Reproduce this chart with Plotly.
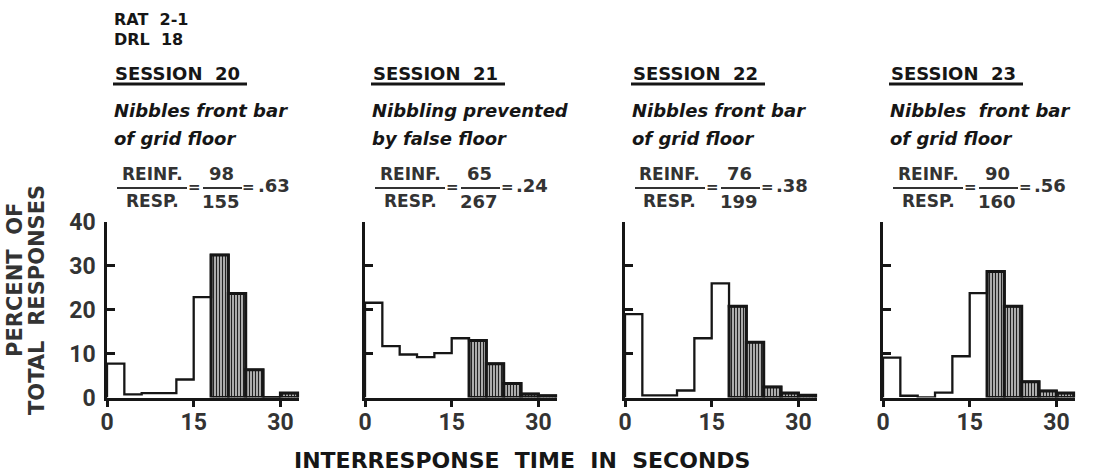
import plotly.graph_objects as go

# ---------------- data ----------------
bin_edges = [0, 3, 6, 9, 12, 15, 18, 21, 24, 27, 30, 33]   # seconds
criterion = 18                                              # DRL 18 s: reinforced IRTs
session_names = ["SESSION  20", "SESSION  21", "SESSION  22", "SESSION  23"]
session_notes = [["Nibbles front bar", "of grid floor"],
                 ["Nibbling prevented", "by false floor"],
                 ["Nibbles front bar", "of grid floor"],
                 ["Nibbles  front bar", "of grid floor"]]
reinf = ["98", "65", "76", "90"]
resp = ["155", "267", "199", "160"]
ratio = [".63", ".24", ".38", ".56"]
session20 = [7.7, 0.7, 1.0, 1.0, 4.1, 22.9, 32.5, 23.7, 6.3, 0.0, 1.0]
session21 = [21.6, 11.7, 9.8, 9.2, 10.1, 13.5, 13.0, 7.7, 3.2, 0.8, 0.4]
session22 = [19.0, 0.5, 0.5, 1.6, 13.5, 26.0, 20.8, 12.6, 2.4, 1.0, 0.5]
session23 = [9.1, 0.4, 0.0, 1.1, 9.4, 23.8, 28.7, 20.8, 3.6, 1.5, 1.0]
sessions = [session20, session21, session22, session23]
x_ticks = [0, 15, 30]
y_ticks = [0, 10, 20, 30, 40]

# ---------------- layout helpers ----------------
W, H = 1096, 474
def px(x):
    return x / W
def py(y):
    return 1 - y / H

INK = "#161616"
GRAY = "#333333"
panel_left = [107, 365, 625, 883]   # pixel x of each y-axis
sec_px = 5.78                        # pixels per second
x_max = 33.3
y_bottom, y_top = 397.5, 222.0

fig = go.Figure()
shapes = []
annotations = []

def note(text, x, y, size, color=INK, xanchor="center", angle=0, family="DejaVu Sans"):
    annotations.append(dict(text=text, x=px(x), y=py(y), xref="paper", yref="paper",
                            xanchor=xanchor, yanchor="middle", showarrow=False,
                            textangle=angle,
                            font=dict(family=family, size=size, color=color)))

def hline(x0, x1, y, width, color):
    shapes.append(dict(type="line", xref="paper", yref="paper",
                       x0=px(x0), x1=px(x1), y0=py(y), y1=py(y),
                       line=dict(color=color, width=width)))

for i, vals in enumerate(sessions):
    xa = "x" if i == 0 else f"x{i+1}"
    ya = "y" if i == 0 else f"y{i+1}"
    # hatched (reinforced) bins
    hx, hy = [], []
    for k, v in enumerate(vals):
        if bin_edges[k] >= criterion:
            hx.append((bin_edges[k] + bin_edges[k + 1]) / 2)
            hy.append(v)
    fig.add_trace(go.Bar(
        x=hx, y=hy, width=[bin_edges[1] - bin_edges[0]] * len(hx),
        xaxis=xa, yaxis=ya, showlegend=False, hoverinfo="skip",
        marker=dict(color="white",
                    line=dict(color=INK, width=3),
                    pattern=dict(shape="|", fgcolor="#222222", bgcolor="#ededed",
                                 size=3, solidity=0.55)),
    ))
    # step outline of the whole histogram
    sx = [bin_edges[0]] + bin_edges[:-1] + [bin_edges[-1], bin_edges[-1]]
    sy = [0] + vals + [vals[-1], 0]
    fig.add_trace(go.Scatter(
        x=sx, y=sy, mode="lines", line=dict(color=INK, width=2.3, shape="hv"),
        xaxis=xa, yaxis=ya, showlegend=False, hoverinfo="skip",
    ))

    X0 = panel_left[i]
    X1 = X0 + x_max * sec_px
    fig.layout[f"xaxis{'' if i == 0 else i+1}"] = dict(
        domain=[px(X0), px(X1)], range=[0, x_max], anchor=ya, automargin=False,
        tickvals=x_ticks, ticktext=[str(t) for t in x_ticks],
        ticks="outside", ticklen=7, tickwidth=2.5, tickcolor=INK,
        ticklabelstandoff=-5,
        showline=True, linewidth=2.5, linecolor=INK,
        showgrid=False, zeroline=False, fixedrange=True,
        tickfont=dict(family="Roboto", size=23, color=GRAY, weight="bold"),
    )
    fig.layout[f"yaxis{'' if i == 0 else i+1}"] = dict(
        domain=[py(y_bottom), py(y_top)], range=[0, 40], anchor=xa, automargin=False,
        tickvals=y_ticks, ticktext=[str(t) for t in y_ticks],
        showticklabels=(i == 0), ticklabelstandoff=4,
        ticks="inside", ticklen=8, tickwidth=2.5, tickcolor=INK,
        showline=True, linewidth=2.5, linecolor=INK,
        showgrid=False, zeroline=False, fixedrange=True,
        tickfont=dict(family="Roboto", size=23, color=GRAY, weight="bold"),
    )

    # ---- header texts ----
    L = X0 + 6
    note(f"<b>{session_names[i]}</b>", L, 73, 18, xanchor="left")
    hline(L, L + 134, 84, 3, INK)
    for j, line in enumerate(session_notes[i]):
        note(f"<b><i>{line}</i></b>", L - 1, 110 + 28 * j, 18, xanchor="left")
    # ---- fraction ----
    F = X0 + 14
    note("<b>REINF.</b>", F + 31, 174, 17, GRAY)
    note("<b>RESP.</b>", F + 31, 201, 17, GRAY)
    hline(F - 4, F + 66, 188, 2.2, GRAY)
    note("<b>=</b>", F + 73, 187, 15, GRAY)
    note(f"<b>{reinf[i]}</b>", F + 100, 174, 18, GRAY)
    note(f"<b>{resp[i]}</b>", F + 100, 201, 18, GRAY)
    hline(F + 82, F + 121, 188, 2.2, GRAY)
    note("<b>=</b>", F + 128, 187, 15, GRAY)
    note(f"<b>{ratio[i]}</b>", F + 135, 185, 18, GRAY, xanchor="left")

# rat / schedule label
note("<b>RAT  2-1</b>", 112, 19.5, 16, xanchor="left")
note("<b>DRL  18</b>", 112, 39.5, 16, xanchor="left")
# axis titles
note("<b>INTERRESPONSE  TIME  IN  SECONDS</b>", 522, 460, 22)
note("<b>PERCENT  OF</b>", 15, 280, 21, GRAY, angle=-90)
note("<b>TOTAL  RESPONSES</b>", 37, 300, 21, GRAY, angle=-90)

fig.update_layout(
    template="none",
    width=W, height=H, margin=dict(l=0, r=0, t=0, b=0, pad=0, autoexpand=False),
    paper_bgcolor="white", plot_bgcolor="rgba(0,0,0,0)",
    barmode="overlay", shapes=shapes, annotations=annotations,
)

fig.write_html("out.html", config={"displayModeBar": False},
               post_script="document.body.style.margin='0';document.body.style.padding='0';"
                           "document.body.style.overflow='hidden';")
